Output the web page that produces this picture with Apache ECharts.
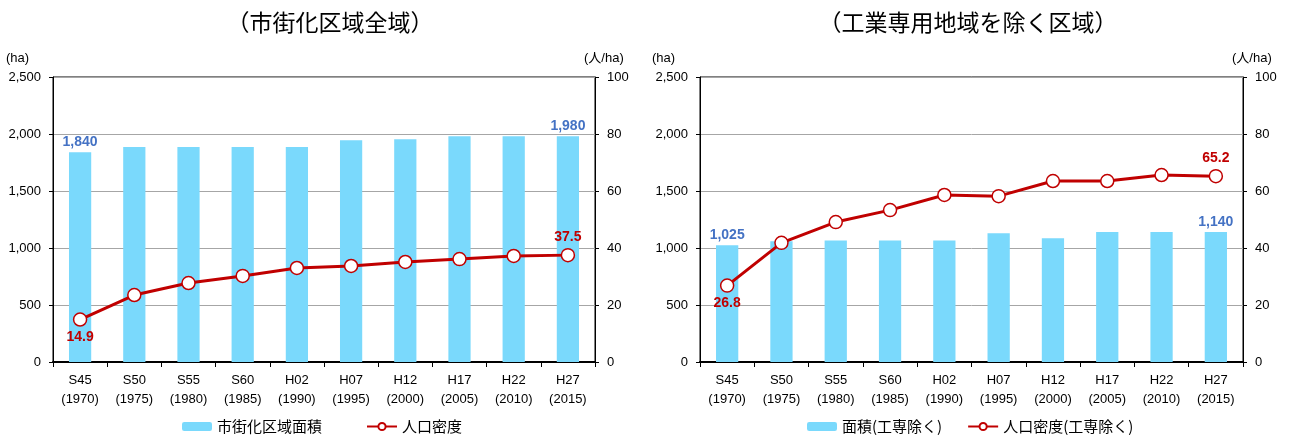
<!DOCTYPE html>
<html>
<head>
<meta charset="utf-8">
<script src="https://cdn.jsdelivr.net/npm/echarts@6/dist/echarts.min.js"></script>
<style>
  html, body { margin: 0; padding: 0; background: #fff; }
  #chart { width: 1297px; height: 437px; }
</style>
</head>
<body>
<div id="chart"></div>
<script>
const categories = ['S45\n(1970)', 'S50\n(1975)', 'S55\n(1980)', 'S60\n(1985)', 'H02\n(1990)',
  'H07\n(1995)', 'H12\n(2000)', 'H17\n(2005)', 'H22\n(2010)', 'H27\n(2015)']
const areaAll = [1840, 1885, 1885, 1885, 1885, 1945, 1955, 1980, 1980, 1980]
const densityAll = [14.9, 23.5, 27.7, 30.2, 33.0, 33.7, 35.1, 36.1, 37.2, 37.5]
const areaExcl = [1025, 1060, 1065, 1065, 1065, 1130, 1085, 1140, 1140, 1140]
const densityExcl = [26.8, 41.8, 49.1, 53.3, 58.6, 58.2, 63.5, 63.5, 65.6, 65.2]
const leftTicks = [0, 500, 1000, 1500, 2000, 2500]
const rightTicks = [0, 20, 40, 60, 80, 100]

const font = "'Liberation Sans', 'Noto Sans CJK JP', sans-serif"
const barColor = '#7ad9fc'
const lineColor = '#c00000'
const blue = '#4472c4'

// only the first and last point get a label
function barData(values) {
  return values.map((v, i) => {
    const edge = i === 0 || i === values.length - 1
    return { value: v, label: { show: edge } }
  })
}
function lineData(values) {
  return values.map((v, i) => {
    if (i === 0) return { value: v, label: { show: true, position: 'bottom', distance: 3 } }
    if (i === values.length - 1) return { value: v, label: { show: true, position: 'top', distance: 4 } }
    return { value: v, label: { show: false } }
  })
}

const grids = [
  { left: 53, right: 702, top: 77, bottom: 75 },
  { left: 700, right: 54, top: 77, bottom: 75 }
]

function xAxis(i) {
  return {
    type: 'category', gridIndex: i, data: categories,
    axisLine: { lineStyle: { color: '#000', width: 2 } },
    axisTick: { show: true, length: 5, lineStyle: { color: '#000' } },
    axisLabel: { color: '#000', fontSize: 13, fontFamily: font, margin: 9, lineHeight: 19 }
  }
}
function yLeft(i) {
  return {
    type: 'value', gridIndex: i, min: leftTicks[0], max: leftTicks[leftTicks.length - 1], interval: 500,
    axisLine: { show: true, lineStyle: { color: '#000' } },
    axisTick: { show: true, length: 4, lineStyle: { color: '#000' } },
    axisLabel: { color: '#000', fontSize: 13, fontFamily: font, margin: 12,
      formatter: v => v.toLocaleString('en-US') },
    splitLine: { lineStyle: { color: '#a6a6a6', width: 1 } }
  }
}
function yRight(i) {
  return {
    type: 'value', gridIndex: i, position: 'right', min: rightTicks[0], max: rightTicks[rightTicks.length - 1], interval: 20,
    axisLine: { show: true, lineStyle: { color: '#000' } },
    axisTick: { show: true, length: 4, lineStyle: { color: '#000' } },
    axisLabel: { color: '#000', fontSize: 13, fontFamily: font, margin: 12 },
    splitLine: { show: false }
  }
}

function barSeries(name, values, i) {
  return {
    name: name, type: 'bar', xAxisIndex: i, yAxisIndex: i * 2, barWidth: '41%',
    itemStyle: { color: barColor },
    label: { position: 'top', distance: 3, color: blue, fontWeight: 'bold', fontSize: 14, fontFamily: font,
      formatter: p => p.value.toLocaleString('en-US') },
    data: barData(values)
  }
}
function lineSeries(name, values, i) {
  return {
    name: name, type: 'line', xAxisIndex: i, yAxisIndex: i * 2 + 1,
    symbol: 'circle', symbolSize: 13,
    lineStyle: { color: lineColor, width: 3 },
    itemStyle: { color: '#fff', borderColor: lineColor, borderWidth: 1.5 },
    label: { color: lineColor, fontWeight: 'bold', fontSize: 14, fontFamily: font,
      formatter: p => p.value.toFixed(1) },
    data: lineData(values)
  }
}

const unitStyle = { fontSize: 13, fontFamily: font, fill: '#000' }

const chart = echarts.init(document.getElementById('chart'))
chart.setOption({
  animation: false,
  backgroundColor: '#fff',
  title: [
    { text: '（市街化区域全域）', left: 325, top: 6, textAlign: 'center',
      textStyle: { fontSize: 23, fontWeight: 'normal', color: '#000', fontFamily: 'Noto Sans CJK JP' } },
    { text: '（工業専用地域を除く区域）', left: 963, top: 6, textAlign: 'center',
      textStyle: { fontSize: 23, fontWeight: 'normal', color: '#000', fontFamily: 'Noto Sans CJK JP' } }
  ],
  graphic: [
    { type: 'text', left: 6, top: 52, style: Object.assign({ text: '(ha)' }, unitStyle) },
    { type: 'text', left: 584, top: 52, style: Object.assign({ text: '(人/ha)' }, unitStyle) },
    { type: 'text', left: 652, top: 52, style: Object.assign({ text: '(ha)' }, unitStyle) },
    { type: 'text', left: 1232, top: 52, style: Object.assign({ text: '(人/ha)' }, unitStyle) }
  ],
  legend: [
    { data: ['市街化区域面積', '人口密度'], left: 177, top: 414, itemWidth: 30, itemHeight: 9, itemGap: 44,
      textStyle: { fontSize: 15, color: '#000', fontFamily: 'Noto Sans CJK JP' } },
    { data: ['面積(工専除く)', '人口密度(工専除く)'], left: 802, top: 414, itemWidth: 30, itemHeight: 9, itemGap: 25,
      textStyle: { fontSize: 15, color: '#000', fontFamily: 'Noto Sans CJK JP' } }
  ],
  grid: grids.map(g => Object.assign({ show: true, borderColor: '#000', borderWidth: 1 }, g)),
  xAxis: [xAxis(0), xAxis(1)],
  yAxis: [yLeft(0), yRight(0), yLeft(1), yRight(1)],
  series: [
    barSeries('市街化区域面積', areaAll, 0),
    lineSeries('人口密度', densityAll, 0),
    barSeries('面積(工専除く)', areaExcl, 1),
    lineSeries('人口密度(工専除く)', densityExcl, 1)
  ]
})
</script>
</body>
</html>
